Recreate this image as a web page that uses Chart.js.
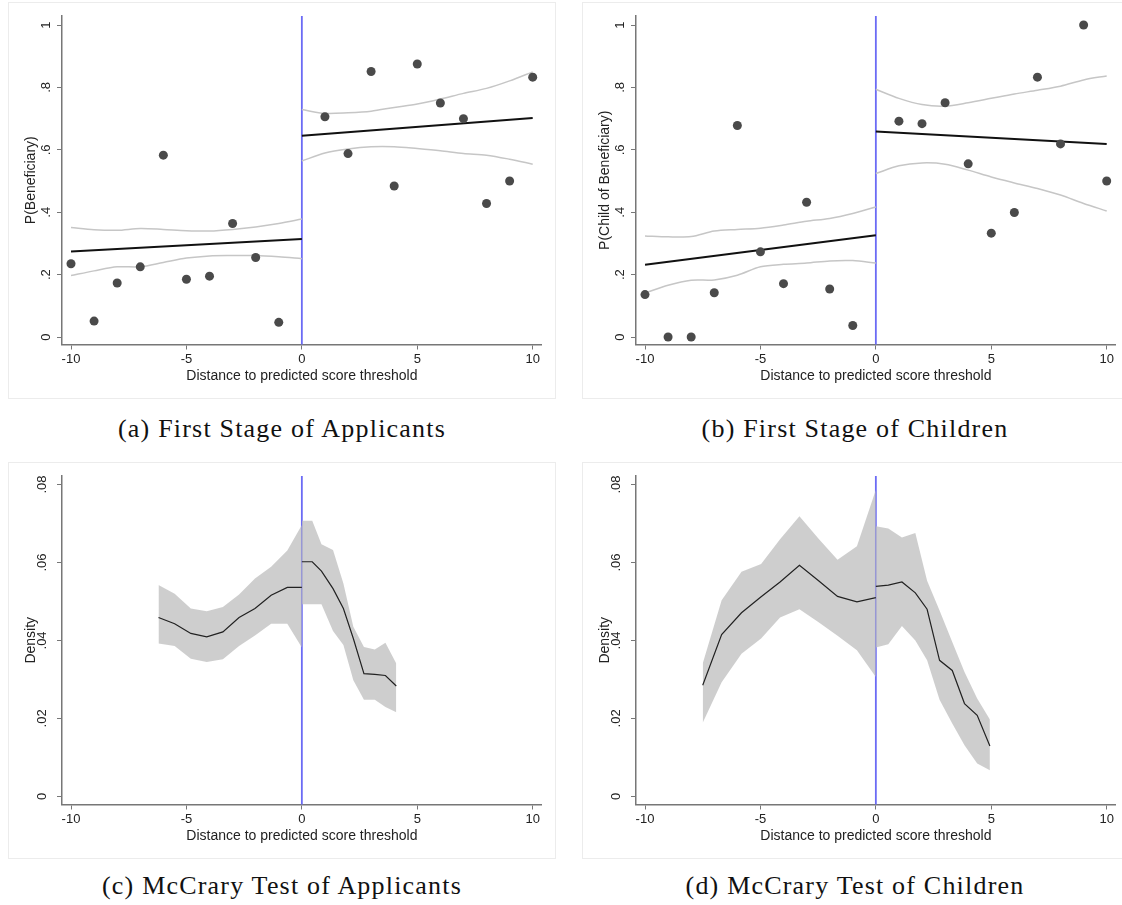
<!DOCTYPE html>
<html><head><meta charset="utf-8">
<script src="https://cdn.jsdelivr.net/npm/chart.js@4.4.1/dist/chart.umd.min.js"></script>
<style>
html,body{margin:0;padding:0;background:#fff;width:1122px;height:905px;overflow:hidden;}
.frame{position:absolute;border:1px solid #ececec;box-sizing:border-box;width:548px;height:397px;}
canvas{position:absolute;}
.cap{position:absolute;width:560px;text-align:center;font-family:'Liberation Serif','DejaVu Serif',serif;font-size:26px;letter-spacing:1.2px;line-height:30px;color:#111;white-space:nowrap;}
</style></head><body>
<div class="frame" style="left:8px;top:2px"></div>
<div class="frame" style="left:582px;top:2px"></div>
<div class="frame" style="left:8px;top:462px"></div>
<div class="frame" style="left:582px;top:462px"></div>
<canvas id="cA" width="548" height="397" style="left:8px;top:2px"></canvas>
<canvas id="cB" width="548" height="397" style="left:582px;top:2px"></canvas>
<canvas id="cC" width="548" height="397" style="left:8px;top:462px"></canvas>
<canvas id="cD" width="548" height="397" style="left:582px;top:462px"></canvas>
<div class="cap" style="left:2px;top:414px">(a) First Stage of Applicants</div>
<div class="cap" style="left:575px;top:414px">(b) First Stage of Children</div>
<div class="cap" style="left:2px;top:871px">(c) McCrary Test of Applicants</div>
<div class="cap" style="left:575px;top:871px">(d) McCrary Test of Children</div>
<script>
// ---------- shared axis definitions ----------
const xTicks = [-10, -5, 0, 5, 10];
const yTicksProb = [0, 0.2, 0.4, 0.6, 0.8, 1];
const yTicksDens = [0, 0.02, 0.04, 0.06, 0.08];
const cutoff = 0;
const xTitle = 'Distance to predicted score threshold';

// ---------- panel (a): first stage, applicants ----------
const binsX = [-10,-9,-8,-7,-6,-5,-4,-3,-2,-1,1,2,3,4,5,6,7,8,9,10];
const meansA = [0.235,0.051,0.173,0.225,0.583,0.185,0.195,0.364,0.255,0.047,
                0.706,0.588,0.851,0.484,0.875,0.750,0.700,0.428,0.500,0.833];
const fitXLeft = [-10, 0];
const fitXRight = [0, 10];
const fitA_L = [0.274, 0.314];
const fitA_R = [0.645, 0.702];
const ciXLeft = [-10,-9,-8,-7,-6,-5,-4,-3,-2,-1,0];
const ciXRight = [0,1,2,3,4,5,6,7,8,9,10];
const ciA_L_hi = [0.351,0.344,0.342,0.348,0.345,0.341,0.340,0.345,0.353,0.364,0.378];
const ciA_L_lo = [0.197,0.212,0.225,0.225,0.239,0.253,0.260,0.261,0.261,0.257,0.251];
const ciA_R_hi = [0.729,0.717,0.719,0.724,0.736,0.747,0.763,0.781,0.797,0.821,0.850];
const ciA_R_lo = [0.564,0.590,0.603,0.610,0.610,0.604,0.597,0.588,0.583,0.570,0.554];

// ---------- panel (b): first stage, children ----------
const meansB = [0.136,0.000,0.000,0.142,0.678,0.273,0.171,0.432,0.154,0.037,
                0.692,0.684,0.751,0.555,0.333,0.399,0.833,0.619,1.000,0.500];
const fitB_L = [0.232, 0.326];
const fitB_R = [0.659, 0.619];
const ciB_L_hi = [0.324,0.321,0.322,0.340,0.345,0.349,0.359,0.371,0.380,0.396,0.417];
const ciB_L_lo = [0.141,0.166,0.182,0.183,0.198,0.225,0.233,0.237,0.244,0.245,0.237];
const ciB_R_hi = [0.794,0.765,0.745,0.740,0.751,0.765,0.779,0.791,0.804,0.824,0.837];
const ciB_R_lo = [0.524,0.549,0.558,0.554,0.535,0.513,0.494,0.476,0.455,0.428,0.404];

// ---------- panel (c): McCrary density, applicants ----------
const dXA_L = [-6.21,-5.51,-4.81,-4.12,-3.42,-2.72,-2.03,-1.33,-0.63,0];
const densA_L = [0.0459,0.0443,0.0418,0.0409,0.0422,0.0459,0.0482,0.0516,0.0536,0.0536];
const hiA_L = [0.0542,0.0520,0.0482,0.0475,0.0486,0.0518,0.0559,0.0589,0.0631,0.0696];
const loA_L = [0.0392,0.0386,0.0353,0.0345,0.0352,0.0386,0.0413,0.0443,0.0443,0.0382];
const dXA_R = [0,0.45,0.85,1.35,1.80,2.23,2.69,3.16,3.62,4.09];
const densA_R = [0.0602,0.0602,0.0578,0.0533,0.0482,0.0405,0.0315,0.0313,0.0310,0.0283];
const hiA_R = [0.0707,0.0707,0.0647,0.0632,0.0546,0.0435,0.0383,0.0377,0.0394,0.0341];
const loA_R = [0.0493,0.0493,0.0493,0.0424,0.0388,0.0298,0.0248,0.0248,0.0229,0.0216];

// ---------- panel (d): McCrary density, children ----------
const dXB_L = [-7.5,-6.68,-5.82,-4.97,-4.15,-3.31,-2.48,-1.66,-0.82,0];
const densB_L = [0.0285,0.0415,0.0471,0.0512,0.0550,0.0593,0.0553,0.0513,0.0499,0.0510];
const hiB_L = [0.0341,0.0503,0.0576,0.0596,0.0660,0.0719,0.0661,0.0607,0.0642,0.0787];
const loB_L = [0.0189,0.0293,0.0366,0.0405,0.0459,0.0480,0.0447,0.0412,0.0375,0.0306];
const dXB_R = [0,0.54,1.13,1.71,2.22,2.76,3.31,3.84,4.39,4.94];
const densB_R = [0.0539,0.0542,0.0550,0.0522,0.0480,0.0349,0.0323,0.0238,0.0208,0.0129];
const hiB_R = [0.0693,0.0687,0.0664,0.0676,0.0553,0.0477,0.0396,0.0319,0.0251,0.0197];
const loB_R = [0.0382,0.0390,0.0437,0.0400,0.0349,0.0248,0.0187,0.0131,0.0084,0.0067];

// ---------- helpers ----------
const pts = (xs, ys) => xs.map((x, i) => ({x: x, y: ys[i]}));
Chart.defaults.font.family = "'Liberation Sans', Arial, sans-serif";
Chart.defaults.font.size = 13;
Chart.defaults.color = '#222';

const cutoffPlugin = {
  id: 'cutoffLine',
  beforeDatasetsDraw(chart) {
    const {ctx, chartArea, scales} = chart;
    const px = scales.x.getPixelForValue(cutoff);
    ctx.save();
    ctx.strokeStyle = '#6b6bf5';
    ctx.lineWidth = 1.8;
    ctx.beginPath();
    ctx.moveTo(px, chartArea.top);
    ctx.lineTo(px, chartArea.bottom);
    ctx.stroke();
    ctx.restore();
  }
};

const fmtY = v => (v === 0 ? '0' : String(v).replace(/^0\./, '.'));

function makeChart(id, datasets, yTitle, yTicks, yMin, yMax) {
  return new Chart(document.getElementById(id), {
    type: 'scatter',
    data: {datasets: datasets},
    options: {
      responsive: false, animation: false, devicePixelRatio: 1,
      layout: {padding: {left: 0, right: 14.3, top: 14, bottom: 0}},
      plugins: {legend: {display: false}, tooltip: {enabled: false}},
      scales: {
        x: {
          type: 'linear', min: -10.39, max: 10.39,
          afterBuildTicks: s => { s.ticks = xTicks.map(v => ({value: v})); },
          afterFit: s => { s.height = 54.5; },
          ticks: {autoSkip: false, minRotation: 0, maxRotation: 0, padding: 2, color: '#222',
                  callback: v => String(v)},
          grid: {drawOnChartArea: false, drawTicks: true, tickLength: 5, color: '#777', lineWidth: 1},
          border: {display: true, color: '#777', width: 1.5},
          title: {display: true, text: xTitle, color: '#222', font: {size: 14}, padding: {top: 0, bottom: 14}}
        },
        y: {
          type: 'linear', min: yMin, max: yMax,
          afterBuildTicks: s => { s.ticks = yTicks.map(v => ({value: v})); },
          afterFit: s => { s.width = 54; },
          ticks: {autoSkip: false, minRotation: 90, maxRotation: 90, crossAlign: 'center', padding: 5.5,
                  color: '#222', callback: v => fmtY(v)},
          grid: {drawOnChartArea: false, drawTicks: true, tickLength: 5, color: '#777', lineWidth: 1},
          border: {display: true, color: '#777', width: 1.5},
          title: {display: true, text: yTitle, color: '#222', font: {size: 14}, padding: {top: 15, bottom: 0}}
        }
      }
    },
    plugins: [cutoffPlugin]
  });
}

const scatterDs = ys => ({data: pts(binsX, ys), showLine: false, pointRadius: 4.5,
  backgroundColor: '#4a4a4a', borderColor: '#4a4a4a', borderWidth: 0});
const lineDs = (xs, ys, color, w, tension) => ({data: pts(xs, ys), showLine: true, pointRadius: 0,
  borderColor: color, borderWidth: w, fill: false, tension: tension});
const bandHi = (xs, ys) => ({data: pts(xs, ys), showLine: true, pointRadius: 0,
  borderColor: 'rgba(0,0,0,0)', borderWidth: 0, backgroundColor: 'rgba(190,190,190,0.75)', fill: '+1'});
const bandLo = (xs, ys) => ({data: pts(xs, ys), showLine: true, pointRadius: 0,
  borderColor: 'rgba(0,0,0,0)', borderWidth: 0, fill: false});

const ciCol = '#c6c6c6';
makeChart('cA', [
  scatterDs(meansA),
  lineDs(fitXLeft, fitA_L, '#111', 2, 0), lineDs(fitXRight, fitA_R, '#111', 2, 0),
  lineDs(ciXLeft, ciA_L_hi, ciCol, 1.5, 0.3), lineDs(ciXLeft, ciA_L_lo, ciCol, 1.5, 0.3),
  lineDs(ciXRight, ciA_R_hi, ciCol, 1.5, 0.3), lineDs(ciXRight, ciA_R_lo, ciCol, 1.5, 0.3)
], 'P(Beneficiary)', yTicksProb, -0.024, 1.029);

makeChart('cB', [
  scatterDs(meansB),
  lineDs(fitXLeft, fitB_L, '#111', 2, 0), lineDs(fitXRight, fitB_R, '#111', 2, 0),
  lineDs(ciXLeft, ciB_L_hi, ciCol, 1.5, 0.3), lineDs(ciXLeft, ciB_L_lo, ciCol, 1.5, 0.3),
  lineDs(ciXRight, ciB_R_hi, ciCol, 1.5, 0.3), lineDs(ciXRight, ciB_R_lo, ciCol, 1.5, 0.3)
], 'P(Child of Beneficiary)', yTicksProb, -0.024, 1.029);

makeChart('cC', [
  lineDs(dXA_L, densA_L, '#222', 1.2, 0), lineDs(dXA_R, densA_R, '#222', 1.2, 0),
  bandHi(dXA_L, hiA_L), bandLo(dXA_L, loA_L),
  bandHi(dXA_R, hiA_R), bandLo(dXA_R, loA_R)
], 'Density', yTicksDens, -0.0021, 0.0822);

makeChart('cD', [
  lineDs(dXB_L, densB_L, '#222', 1.2, 0), lineDs(dXB_R, densB_R, '#222', 1.2, 0),
  bandHi(dXB_L, hiB_L), bandLo(dXB_L, loB_L),
  bandHi(dXB_R, hiB_R), bandLo(dXB_R, loB_R)
], 'Density', yTicksDens, -0.0021, 0.0822);
</script>
</body></html>
